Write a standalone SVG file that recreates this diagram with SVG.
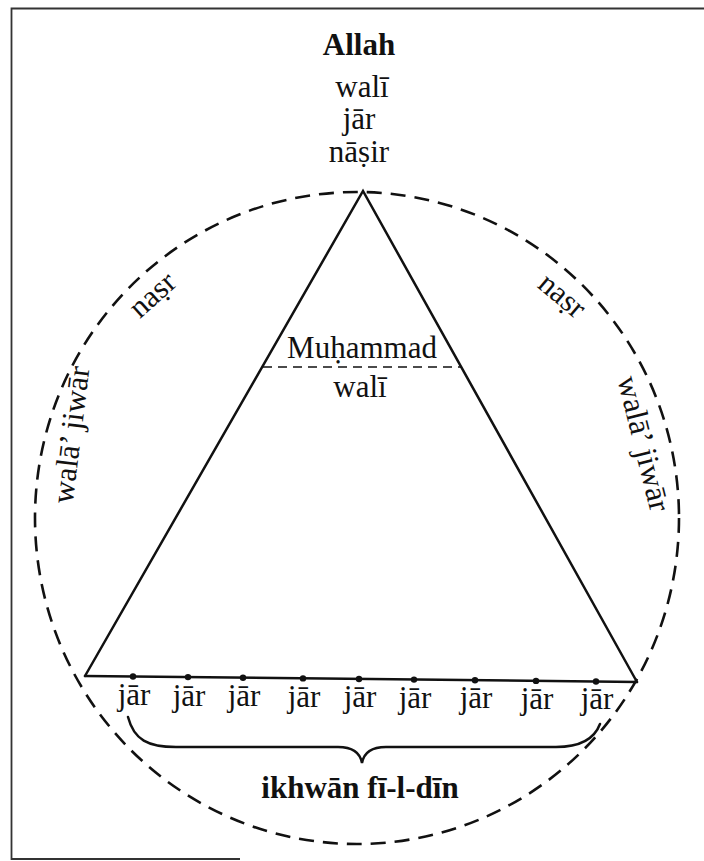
<svg xmlns="http://www.w3.org/2000/svg" width="704" height="861" viewBox="0 0 704 861">
<style>
  text { font-family: 'Liberation Serif', 'Times New Roman', Times, 'DejaVu Serif', serif; }
  .t { font-size: 31px; fill: #111; text-anchor: middle; }
  .b { font-weight: bold; }
  .ln { fill: none; stroke: #111; stroke-width: 2.5; stroke-linecap: round; stroke-linejoin: miter; }
  .dash { fill: none; stroke: #111; stroke-width: 2.6; stroke-dasharray: 15 9; }
  .thin { fill: none; stroke: #111; stroke-width: 1.4; stroke-dasharray: 9 6; }
  .dot { fill: #111; }
  .frame { fill: none; stroke: #333; stroke-width: 1.8; }
</style>
<rect width="704" height="861" fill="#fff"/>
<path class="frame" d="M704 8.5 H11.5 V859 H240"/>

<g id="connectors">
  <ellipse class="dash" cx="357" cy="518" rx="322" ry="326"/>
  <path class="ln" d="M85 676 L363 191 L637 682"/>
  <path class="ln" d="M85 676 L637 682" stroke-width="2.8"/>
  <line class="thin" x1="263" y1="367" x2="461" y2="367"/>
  <path class="ln" d="M128 717 C134 740 148 747 176 747 H338 C352 747 360 752 362 763 C364 752 372 747 386 747 H556 C578 747 594 740 600 724"/>
  <g id="dots">
    <circle class="dot" cx="133" cy="676.5" r="3.2"/>
    <circle class="dot" cx="188" cy="677.1" r="3.2"/>
    <circle class="dot" cx="243" cy="677.7" r="3.2"/>
    <circle class="dot" cx="303" cy="678.4" r="3.2"/>
    <circle class="dot" cx="359" cy="679" r="3.2"/>
    <circle class="dot" cx="414" cy="679.6" r="3.2"/>
    <circle class="dot" cx="475" cy="680.2" r="3.2"/>
    <circle class="dot" cx="536" cy="680.9" r="3.2"/>
    <circle class="dot" cx="596" cy="681.5" r="3.2"/>
  </g>
</g>

<g id="allah">
  <text class="t b" x="359" y="55" font-size="30">Allah</text>
  <text class="t" x="362" y="97">walī</text>
  <text class="t" x="359" y="129">jār</text>
  <text class="t" x="359" y="162">nāṣir</text>
</g>

<g id="muhammad">
  <text class="t" x="362" y="358">Muḥammad</text>
  <text class="t" x="360" y="397">walī</text>
</g>

<g id="edge-labels">
  <text class="t" transform="translate(159 302) rotate(-42)" x="0" y="0">naṣr</text>
  <text class="t" transform="translate(556 303) rotate(40)" x="0" y="0">naṣr</text>
  <text class="t" font-size="29" transform="translate(81 436) rotate(-83)" x="0" y="0">walā’ jiwār</text>
  <text class="t" font-size="29" transform="translate(634 446) rotate(76)" x="0" y="0">walā’ jiwār</text>
</g>

<g id="jar-row">
  <text class="t" x="134" y="705">jār</text>
  <text class="t" x="189" y="705.5">jār</text>
  <text class="t" x="244" y="706">jār</text>
  <text class="t" x="304" y="706.5">jār</text>
  <text class="t" x="360" y="707">jār</text>
  <text class="t" x="415" y="707.5">jār</text>
  <text class="t" x="476" y="708">jār</text>
  <text class="t" x="537" y="708.5">jār</text>
  <text class="t" x="597" y="709">jār</text>
</g>

<g id="ikhwan">
  <text class="t b" x="360" y="798">ikhwān fī-l-dīn</text>
</g>
</svg>
